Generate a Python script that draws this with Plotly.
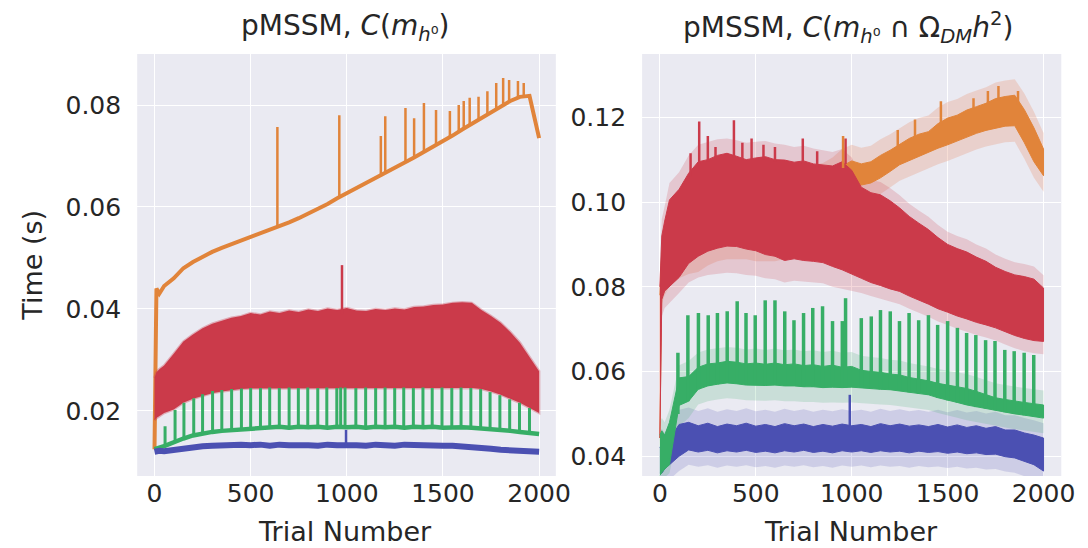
import plotly.graph_objects as go

# ---------------- data ----------------
TRIALS = [0, 10, 25, 50, 100, 150, 200, 250, 300, 350, 400, 450, 500, 550, 600, 650, 700,
          750, 800, 850, 900, 950, 1000, 1050, 1100, 1150, 1200, 1250, 1300, 1350, 1400,
          1450, 1500, 1550, 1600, 1650, 1700, 1750, 1800, 1850, 1900, 1950, 2000]

# ---- left panel: C(m_h0) ----
L_ORANGE = [0.0125, 0.0440, 0.0430, 0.0445, 0.0460, 0.0480, 0.0492, 0.0503, 0.0512, 0.0520,
            0.0527, 0.0534, 0.0540, 0.0548, 0.0556, 0.0563, 0.0570, 0.0578, 0.0587, 0.0596,
            0.0606, 0.0617, 0.0627, 0.0636, 0.0645, 0.0656, 0.0666, 0.0676, 0.0686, 0.0697,
            0.0708, 0.0718, 0.0729, 0.0740, 0.0752, 0.0763, 0.0775, 0.0787, 0.0798, 0.0808,
            0.0816, 0.0818, 0.0735]
L_RED_HI = [0.0265, 0.0276, 0.0282, 0.0289, 0.0312, 0.0336, 0.0350, 0.0362, 0.0371, 0.0377,
            0.0383, 0.0386, 0.0392, 0.0389, 0.0395, 0.0392, 0.0397, 0.0394, 0.0399, 0.0396,
            0.0401, 0.0398, 0.0402, 0.0397, 0.0396, 0.0400, 0.0398, 0.0401, 0.0399, 0.0404,
            0.0405, 0.0408, 0.0409, 0.0412, 0.0413, 0.0412, 0.0398, 0.0386, 0.0373, 0.0355,
            0.0334, 0.0306, 0.0278]
L_RED_LO = [0.0182, 0.0186, 0.0190, 0.0196, 0.0203, 0.0216, 0.0224, 0.0230, 0.0235, 0.0238,
            0.0241, 0.0243, 0.0244, 0.0245, 0.0245, 0.0245, 0.0245, 0.0245, 0.0245, 0.0245,
            0.0245, 0.0245, 0.0245, 0.0245, 0.0245, 0.0245, 0.0245, 0.0245, 0.0245, 0.0245,
            0.0245, 0.0245, 0.0245, 0.0245, 0.0245, 0.0245, 0.0243, 0.0238, 0.0232, 0.0224,
            0.0216, 0.0206, 0.0196]
L_GREEN = [0.0125, 0.0127, 0.0128, 0.0131, 0.0139, 0.0146, 0.0152, 0.0156, 0.0159, 0.0161,
           0.0162, 0.0164, 0.0165, 0.0166, 0.0167, 0.0169, 0.0167, 0.0169, 0.0168, 0.0169,
           0.0167, 0.0169, 0.0168, 0.0169, 0.0167, 0.0169, 0.0168, 0.0169, 0.0167, 0.0169,
           0.0168, 0.0169, 0.0167, 0.0168, 0.0168, 0.0167, 0.0166, 0.0165, 0.0163, 0.0161,
           0.0159, 0.0157, 0.0155]
L_BLUE = [0.0120, 0.0121, 0.0122, 0.0121, 0.0124, 0.0127, 0.0129, 0.0131, 0.0132, 0.0133,
          0.0132, 0.0134, 0.0133, 0.0134, 0.0132, 0.0134, 0.0133, 0.0134, 0.0133, 0.0132,
          0.0134, 0.0133, 0.0134, 0.0133, 0.0132, 0.0134, 0.0133, 0.0132, 0.0134, 0.0133,
          0.0132, 0.0133, 0.0132, 0.0132, 0.0131, 0.0130, 0.0128, 0.0126, 0.0124, 0.0123,
          0.0122, 0.0121, 0.0120]

L_ORANGE_SPK_T = [639, 961, 1177, 1200, 1305, 1350, 1401, 1464, 1536, 1582, 1608, 1639,
                  1685, 1731, 1777, 1813, 1844, 1890, 1920]
L_ORANGE_SPK_BASE = [0.0559, 0.0620, 0.0660, 0.0666, 0.0687, 0.0697, 0.0708, 0.0721, 0.0737,
                     0.0748, 0.0754, 0.0761, 0.0772, 0.0782, 0.0793, 0.0800, 0.0807, 0.0814,
                     0.0817]
L_ORANGE_SPK_TOP = [0.0757, 0.0780, 0.0739, 0.0778, 0.0794, 0.0774, 0.0804, 0.0790, 0.0788,
                    0.0800, 0.0808, 0.0814, 0.0816, 0.0827, 0.0843, 0.0853, 0.0849, 0.0847,
                    0.0843]
L_GREEN_SPK_T = [55, 107, 153, 204, 250, 302, 350, 401, 452, 500, 551, 599, 649, 700, 748,
                 797, 849, 896, 948, 968, 991, 1047, 1098, 1150, 1199, 1249, 1296, 1346,
                 1396, 1444, 1495, 1546, 1594, 1645, 1696, 1745, 1796, 1847, 1898, 1950]
L_GREEN_SPK_BASE = [0.0131, 0.0140, 0.0146, 0.0152, 0.0156, 0.0159, 0.0161, 0.0162, 0.0164,
                    0.0165, 0.0166, 0.0167, 0.0168, 0.0168, 0.0168, 0.0168, 0.0168, 0.0168,
                    0.0168, 0.0168, 0.0168, 0.0168, 0.0168, 0.0168, 0.0168, 0.0168, 0.0168,
                    0.0168, 0.0168, 0.0168, 0.0168, 0.0168, 0.0168, 0.0167, 0.0166, 0.0165,
                    0.0163, 0.0161, 0.0159, 0.0157]
L_GREEN_SPK_TOP = [0.0170, 0.0202, 0.0216, 0.0225, 0.0233, 0.0239, 0.0241, 0.0243, 0.0244,
                   0.0245, 0.0245, 0.0246, 0.0245, 0.0246, 0.0245, 0.0246, 0.0245, 0.0246,
                   0.0245, 0.0246, 0.0246, 0.0245, 0.0246, 0.0245, 0.0246, 0.0245, 0.0246,
                   0.0245, 0.0246, 0.0245, 0.0246, 0.0245, 0.0246, 0.0245, 0.0243, 0.0237,
                   0.0231, 0.0223, 0.0216, 0.0206]
L_RED_SPK = (975, 0.0390, 0.0486)
L_BLUE_SPK = (996, 0.0133, 0.0163)

# ---- right panel: C(m_h0 ∩ Ω_DM h^2) ----
R_ORANGE_HI = [0.0780, 0.0880, 0.0910, 0.0950, 0.0980, 0.1010, 0.1030, 0.1040, 0.1050, 0.1055,
               0.1055, 0.1050, 0.1050, 0.1050, 0.1048, 0.1048, 0.1046, 0.1046, 0.1048, 0.1052,
               0.1065, 0.1085, 0.1097, 0.1090, 0.1095, 0.1110, 0.1122, 0.1136, 0.1150, 0.1160,
               0.1166, 0.1185, 0.1198, 0.1205, 0.1217, 0.1225, 0.1233, 0.1244, 0.1249, 0.1252,
               0.1218, 0.1175, 0.1125]
R_ORANGE_LO = [0.0443, 0.0800, 0.0820, 0.0840, 0.0860, 0.0870, 0.0875, 0.0890, 0.0900, 0.0905,
               0.0905, 0.0905, 0.0900, 0.0900, 0.0900, 0.0905, 0.0910, 0.0920, 0.0935, 0.0955,
               0.0980, 0.1005, 0.1025, 0.1040, 0.1045, 0.1057, 0.1072, 0.1088, 0.1098, 0.1108,
               0.1117, 0.1127, 0.1135, 0.1143, 0.1153, 0.1162, 0.1169, 0.1174, 0.1179, 0.1180,
               0.1140, 0.1095, 0.1062]
R_ORANGE_CI_HI = [0.0810, 0.0920, 0.0950, 0.0990, 0.1020, 0.1050, 0.1070, 0.1080, 0.1090,
                  0.1095, 0.1095, 0.1090, 0.1090, 0.1090, 0.1088, 0.1088, 0.1086, 0.1086,
                  0.1088, 0.1092, 0.1105, 0.1125, 0.1135, 0.1128, 0.1133, 0.1148, 0.1160,
                  0.1174, 0.1188, 0.1198, 0.1204, 0.1223, 0.1236, 0.1243, 0.1255, 0.1263,
                  0.1271, 0.1282, 0.1287, 0.1290, 0.1256, 0.1213, 0.1163]
R_ORANGE_CI_LO = [0.0420, 0.0760, 0.0780, 0.0800, 0.0820, 0.0830, 0.0835, 0.0850, 0.0860,
                  0.0865, 0.0865, 0.0865, 0.0860, 0.0860, 0.0860, 0.0865, 0.0870, 0.0880,
                  0.0895, 0.0915, 0.0940, 0.0965, 0.0985, 0.1002, 0.1007, 0.1019, 0.1034,
                  0.1050, 0.1060, 0.1070, 0.1079, 0.1089, 0.1097, 0.1105, 0.1115, 0.1124,
                  0.1131, 0.1136, 0.1141, 0.1142, 0.1102, 0.1057, 0.1024]

R_RED_HI = [0.0800, 0.0920, 0.0955, 0.1005, 0.1030, 0.1068, 0.1095, 0.1100, 0.1110, 0.1115,
            0.1108, 0.1100, 0.1104, 0.1107, 0.1100, 0.1099, 0.1094, 0.1097, 0.1090, 0.1087,
            0.1085, 0.1095, 0.1075, 0.1035, 0.1022, 0.1017, 0.1003, 0.0986, 0.0966, 0.0950,
            0.0935, 0.0916, 0.0900, 0.0890, 0.0882, 0.0870, 0.0860, 0.0846, 0.0836, 0.0828,
            0.0824, 0.0818, 0.0797]
R_RED_LO = [0.0443, 0.0770, 0.0790, 0.0800, 0.0822, 0.0855, 0.0872, 0.0884, 0.0891, 0.0896,
            0.0895, 0.0889, 0.0885, 0.0876, 0.0872, 0.0862, 0.0866, 0.0862, 0.0860, 0.0857,
            0.0848, 0.0840, 0.0830, 0.0820, 0.0810, 0.0803, 0.0795, 0.0789, 0.0778, 0.0768,
            0.0759, 0.0748, 0.0740, 0.0731, 0.0724, 0.0716, 0.0710, 0.0703, 0.0694, 0.0685,
            0.0678, 0.0673, 0.0671]
R_RED_CI_HI = [0.0830, 0.0960, 0.0990, 0.1045, 0.1070, 0.1110, 0.1135, 0.1142, 0.1148, 0.1150,
               0.1146, 0.1140, 0.1142, 0.1144, 0.1138, 0.1135, 0.1130, 0.1133, 0.1126, 0.1122,
               0.1118, 0.1125, 0.1105, 0.1065, 0.1052, 0.1047, 0.1033, 0.1016, 0.0996, 0.0980,
               0.0965, 0.0946, 0.0930, 0.0920, 0.0912, 0.0900, 0.0890, 0.0876, 0.0866, 0.0858,
               0.0854, 0.0848, 0.0827]
R_RED_CI_LO = [0.0420, 0.0730, 0.0750, 0.0760, 0.0785, 0.0810, 0.0822, 0.0828, 0.0830, 0.0833,
               0.0832, 0.0828, 0.0826, 0.0820, 0.0818, 0.0810, 0.0814, 0.0812, 0.0810, 0.0808,
               0.0800, 0.0795, 0.0790, 0.0785, 0.0778, 0.0772, 0.0765, 0.0759, 0.0748, 0.0738,
               0.0729, 0.0718, 0.0710, 0.0701, 0.0694, 0.0686, 0.0680, 0.0673, 0.0664, 0.0655,
               0.0648, 0.0643, 0.0641]

R_GREEN_HI = [0.0450, 0.0460, 0.0450, 0.0480, 0.0585, 0.0588, 0.0610, 0.0618, 0.0620, 0.0624,
              0.0622, 0.0618, 0.0620, 0.0617, 0.0620, 0.0616, 0.0618, 0.0614, 0.0616, 0.0612,
              0.0615, 0.0610, 0.0612, 0.0603, 0.0600, 0.0598, 0.0594, 0.0592, 0.0586, 0.0582,
              0.0578, 0.0572, 0.0568, 0.0565, 0.0560, 0.0553, 0.0546, 0.0538, 0.0534, 0.0530,
              0.0527, 0.0524, 0.0521]
R_GREEN_LO = [0.0355, 0.0360, 0.0370, 0.0380, 0.0520, 0.0530, 0.0558, 0.0566, 0.0570, 0.0573,
              0.0571, 0.0568, 0.0568, 0.0567, 0.0568, 0.0566, 0.0566, 0.0564, 0.0564, 0.0562,
              0.0563, 0.0562, 0.0563, 0.0561, 0.0560, 0.0558, 0.0557, 0.0555, 0.0551, 0.0548,
              0.0545, 0.0538, 0.0532, 0.0527, 0.0521, 0.0516, 0.0513, 0.0509, 0.0504, 0.0500,
              0.0497, 0.0494, 0.0490]
R_GREEN_CI_HI = [0.0480, 0.0490, 0.0480, 0.0510, 0.0615, 0.0625, 0.0645, 0.0652, 0.0655,
                 0.0658, 0.0656, 0.0652, 0.0654, 0.0651, 0.0654, 0.0650, 0.0652, 0.0648,
                 0.0650, 0.0646, 0.0649, 0.0644, 0.0646, 0.0637, 0.0634, 0.0632, 0.0628,
                 0.0626, 0.0620, 0.0616, 0.0612, 0.0606, 0.0602, 0.0599, 0.0594, 0.0587,
                 0.0580, 0.0572, 0.0568, 0.0564, 0.0561, 0.0558, 0.0555]
R_GREEN_CI_LO = [0.0340, 0.0340, 0.0350, 0.0360, 0.0470, 0.0490, 0.0522, 0.0530, 0.0534,
                 0.0537, 0.0535, 0.0532, 0.0532, 0.0531, 0.0532, 0.0530, 0.0530, 0.0528,
                 0.0528, 0.0526, 0.0527, 0.0526, 0.0527, 0.0525, 0.0524, 0.0522, 0.0521,
                 0.0519, 0.0515, 0.0512, 0.0509, 0.0502, 0.0496, 0.0491, 0.0485, 0.0480,
                 0.0477, 0.0473, 0.0468, 0.0464, 0.0461, 0.0458, 0.0454]

R_BLUE_HI = [0.0420, 0.0430, 0.0420, 0.0440, 0.0475, 0.0480, 0.0472, 0.0478, 0.0470, 0.0476,
             0.0472, 0.0478, 0.0471, 0.0475, 0.0470, 0.0477, 0.0472, 0.0476, 0.0470, 0.0475,
             0.0471, 0.0476, 0.0472, 0.0475, 0.0470, 0.0477, 0.0472, 0.0476, 0.0471, 0.0474,
             0.0470, 0.0475, 0.0469, 0.0474, 0.0468, 0.0472, 0.0466, 0.0470, 0.0462, 0.0462,
             0.0455, 0.0450, 0.0443]
R_BLUE_LO = [0.0360, 0.0360, 0.0370, 0.0380, 0.0400, 0.0415, 0.0410, 0.0414, 0.0408, 0.0413,
             0.0410, 0.0414, 0.0409, 0.0412, 0.0408, 0.0413, 0.0410, 0.0414, 0.0409, 0.0412,
             0.0408, 0.0413, 0.0410, 0.0413, 0.0409, 0.0413, 0.0410, 0.0412, 0.0408, 0.0412,
             0.0409, 0.0411, 0.0407, 0.0410, 0.0406, 0.0408, 0.0404, 0.0405, 0.0399, 0.0396,
             0.0388, 0.0380, 0.0365]
R_BLUE_CI_HI = [0.0455, 0.0465, 0.0455, 0.0475, 0.0510, 0.0515, 0.0507, 0.0513, 0.0505,
                0.0511, 0.0507, 0.0513, 0.0506, 0.0510, 0.0505, 0.0512, 0.0507, 0.0511,
                0.0505, 0.0510, 0.0506, 0.0511, 0.0507, 0.0510, 0.0505, 0.0512, 0.0507,
                0.0511, 0.0506, 0.0509, 0.0505, 0.0510, 0.0504, 0.0509, 0.0503, 0.0507,
                0.0501, 0.0505, 0.0497, 0.0497, 0.0490, 0.0485, 0.0478]
R_BLUE_CI_LO = [0.0325, 0.0325, 0.0335, 0.0345, 0.0365, 0.0380, 0.0375, 0.0379, 0.0373,
                0.0378, 0.0375, 0.0379, 0.0374, 0.0377, 0.0373, 0.0378, 0.0375, 0.0379,
                0.0374, 0.0377, 0.0373, 0.0378, 0.0375, 0.0378, 0.0374, 0.0378, 0.0375,
                0.0377, 0.0373, 0.0377, 0.0374, 0.0376, 0.0372, 0.0375, 0.0371, 0.0373,
                0.0369, 0.0370, 0.0364, 0.0361, 0.0353, 0.0345, 0.0330]

R_GREEN_SPK_T = [94, 146, 201, 252, 300, 351, 403, 449, 497, 549, 600, 651, 699, 749, 797,
                 848, 900, 951, 968, 1050, 1102, 1150, 1201, 1249, 1299, 1349, 1400, 1448,
                 1500, 1551, 1599, 1647, 1698, 1747, 1798, 1847, 1899, 1949]
R_GREEN_SPK_BASE = [0.0500, 0.0530, 0.0558, 0.0566, 0.0570, 0.0573, 0.0571, 0.0568, 0.0568,
                    0.0567, 0.0568, 0.0566, 0.0566, 0.0564, 0.0564, 0.0562, 0.0563, 0.0562,
                    0.0562, 0.0561, 0.0560, 0.0558, 0.0557, 0.0555, 0.0551, 0.0548, 0.0545,
                    0.0538, 0.0532, 0.0527, 0.0521, 0.0516, 0.0513, 0.0509, 0.0504, 0.0500,
                    0.0497, 0.0494]
R_GREEN_SPK_TOP = [0.0644, 0.0733, 0.0738, 0.0733, 0.0738, 0.0742, 0.0766, 0.0738, 0.0733,
                   0.0768, 0.0768, 0.0742, 0.0721, 0.0738, 0.0750, 0.0754, 0.0719, 0.0719,
                   0.0773, 0.0726, 0.0730, 0.0745, 0.0742, 0.0719, 0.0738, 0.0721, 0.0733,
                   0.0710, 0.0719, 0.0703, 0.0691, 0.0686, 0.0674, 0.0672, 0.0651, 0.0648,
                   0.0644, 0.0639]
R_RED_SPK_T = [160, 205, 250, 290, 386, 430, 478, 540, 600, 745, 820, 968]
R_RED_SPK_BASE = [0.1060, 0.1090, 0.1095, 0.1100, 0.1105, 0.1100, 0.1100, 0.1100, 0.1095,
                  0.1090, 0.1080, 0.1090]
R_RED_SPK_TOP = [0.1115, 0.1190, 0.1156, 0.1130, 0.1193, 0.1140, 0.1150, 0.1135, 0.1130,
                 0.1150, 0.1120, 0.1150]
R_ORANGE_SPK_T = [955, 1240, 1330, 1465, 1635, 1710, 1765, 1867]
R_ORANGE_SPK_BASE = [0.1080, 0.1130, 0.1150, 0.1180, 0.1220, 0.1230, 0.1240, 0.1230]
R_ORANGE_SPK_TOP = [0.1156, 0.1170, 0.1195, 0.1238, 0.1245, 0.1262, 0.1274, 0.1262]
R_BLUE_SPK = (990, 0.0470, 0.0545)

LEFT_YTICKS = [0.02, 0.04, 0.06, 0.08]
RIGHT_YTICKS = [0.04, 0.06, 0.08, 0.10, 0.12]
XTICKS = [0, 500, 1000, 1500, 2000]

# ---------------- style ----------------
ORANGE = "#E1843A"
RED = "#CB3A4A"
GREEN = "#37AE66"
BLUE = "#4B50B2"
BG = "#EAEAF2"
TXT = "#262626"
FONT = "DejaVu Sans"


def rgba(hx, a):
    hx = hx.lstrip("#")
    return "rgba(%d,%d,%d,%.2f)" % (int(hx[0:2], 16), int(hx[2:4], 16), int(hx[4:6], 16), a)


def band(x, hi, lo, color, xa, ya, edge=None, ew=0):
    return go.Scatter(x=list(x) + list(x)[::-1], y=list(hi) + list(lo)[::-1], mode="lines",
                      fill="toself", fillcolor=color,
                      line=dict(color=edge or color, width=ew), hoverinfo="skip",
                      showlegend=False, xaxis=xa, yaxis=ya)


def spikes(ts, bases, tops, color, width, xa, ya):
    xs, ys = [], []
    for t, b, h in zip(ts, bases, tops):
        xs += [t, t, None]
        ys += [b, h, None]
    return go.Scatter(x=xs, y=ys, mode="lines", line=dict(color=color, width=width),
                      hoverinfo="skip", showlegend=False, xaxis=xa, yaxis=ya)


def line(x, y, color, width, xa, ya):
    return go.Scatter(x=x, y=y, mode="lines", line=dict(color=color, width=width),
                      hoverinfo="skip", showlegend=False, xaxis=xa, yaxis=ya)


fig = go.Figure()

# left panel
fig.add_trace(line(TRIALS, L_ORANGE, ORANGE, 4, "x", "y"))
fig.add_trace(spikes(L_ORANGE_SPK_T, L_ORANGE_SPK_BASE, L_ORANGE_SPK_TOP, ORANGE, 2.5, "x", "y"))
fig.add_trace(band(TRIALS, L_RED_HI, L_RED_LO, RED, "x", "y", edge=rgba(RED, 0.35), ew=2.5))
fig.add_trace(spikes([L_RED_SPK[0]], [L_RED_SPK[1]], [L_RED_SPK[2]], RED, 2.5, "x", "y"))
fig.add_trace(spikes(L_GREEN_SPK_T, L_GREEN_SPK_BASE, L_GREEN_SPK_TOP, GREEN, 3, "x", "y"))
fig.add_trace(line(TRIALS, L_GREEN, GREEN, 4.5, "x", "y"))
fig.add_trace(line(TRIALS, L_BLUE, BLUE, 6, "x", "y"))
fig.add_trace(spikes([L_BLUE_SPK[0]], [L_BLUE_SPK[1]], [L_BLUE_SPK[2]], BLUE, 2.5, "x", "y"))

# right panel: confidence shading
fig.add_trace(band(TRIALS, R_ORANGE_CI_HI, R_ORANGE_CI_LO, rgba("#E8A088", 0.35), "x2", "y2"))
fig.add_trace(band(TRIALS, R_RED_CI_HI, R_RED_CI_LO, rgba(RED, 0.2), "x2", "y2"))
fig.add_trace(band(TRIALS, R_BLUE_CI_HI, R_BLUE_CI_LO, rgba(BLUE, 0.18), "x2", "y2"))
fig.add_trace(band(TRIALS, R_GREEN_CI_HI, R_GREEN_CI_LO, rgba(GREEN, 0.18), "x2", "y2"))
# right panel: dark bands
fig.add_trace(band(TRIALS, R_ORANGE_HI, R_ORANGE_LO, ORANGE, "x2", "y2", ew=1))
fig.add_trace(band(TRIALS, R_RED_HI, R_RED_LO, RED, "x2", "y2", ew=1))
fig.add_trace(spikes(R_RED_SPK_T, R_RED_SPK_BASE, R_RED_SPK_TOP, RED, 2.5, "x2", "y2"))
fig.add_trace(spikes(R_ORANGE_SPK_T, R_ORANGE_SPK_BASE, R_ORANGE_SPK_TOP, ORANGE, 2.5, "x2", "y2"))
fig.add_trace(band(TRIALS, R_BLUE_HI, R_BLUE_LO, BLUE, "x2", "y2", ew=1))
fig.add_trace(spikes([R_BLUE_SPK[0]], [R_BLUE_SPK[1]], [R_BLUE_SPK[2]], BLUE, 2.5, "x2", "y2"))
fig.add_trace(band(TRIALS, R_GREEN_HI, R_GREEN_LO, GREEN, "x2", "y2", ew=1))
fig.add_trace(spikes(R_GREEN_SPK_T, R_GREEN_SPK_BASE, R_GREEN_SPK_TOP, GREEN, 3.5, "x2", "y2"))

W, H = 1088, 548
grid = dict(showgrid=True, gridcolor="white", gridwidth=1.3, zeroline=False, showline=False,
            tickfont=dict(family=FONT, size=25, color=TXT))
xcommon = dict(ticks="", **grid)
ycommon = dict(ticks="outside", ticklen=10, tickcolor="rgba(0,0,0,0)", **grid)

fig.update_layout(
    width=W, height=H, margin=dict(l=0, r=0, t=0, b=0),
    paper_bgcolor="white", plot_bgcolor=BG, showlegend=False,
    xaxis=dict(domain=[131 / W, 555.5 / W], range=[-90, 2087], tickvals=XTICKS,
               ticktext=[str(v) for v in XTICKS], anchor="y", **xcommon),
    yaxis=dict(domain=[1 - 468 / H, 1 - 46 / H], range=[0.00725, 0.0900], tickvals=LEFT_YTICKS,
               ticktext=["%.2f" % v for v in LEFT_YTICKS], anchor="x", **ycommon),
    xaxis2=dict(domain=[643 / W, 1068 / W], range=[-92.5, 2092.5], tickvals=XTICKS,
                ticktext=[str(v) for v in XTICKS], anchor="y2", **xcommon),
    yaxis2=dict(domain=[1 - 468 / H, 1 - 46 / H], range=[0.03534, 0.13493],
                tickvals=RIGHT_YTICKS, ticktext=["%.2f" % v for v in RIGHT_YTICKS],
                anchor="x2", **ycommon),
)

title_font = dict(family=FONT, size=28, color=TXT)
ann_font = dict(family=FONT, size=27, color=TXT)
fig.add_annotation(x=342 / W, y=1 - 20 / H, xref="paper", yref="paper", showarrow=False,
                   text="pMSSM, <i>C</i>(<i>m</i><sub><i>h</i>⁰</sub>)",
                   font=title_font, xanchor="center", yanchor="middle")
fig.add_annotation(x=852 / W, y=1 - 20 / H, xref="paper", yref="paper", showarrow=False,
                   text="pMSSM, <i>C</i>(<i>m</i><sub><i>h</i>⁰</sub> ∩ Ω<sub><i>DM</i></sub><i>h</i><sup>2</sup>)",
                   font=title_font, xanchor="center", yanchor="middle")
fig.add_annotation(x=24 / W, y=1 - 257 / H, xref="paper", yref="paper", showarrow=False,
                   text="Time (s)", textangle=-90, font=ann_font,
                   xanchor="center", yanchor="middle")
for cx in (342, 855):
    fig.add_annotation(x=cx / W, y=1 - 523 / H, xref="paper", yref="paper", showarrow=False,
                       text="Trial Number", font=ann_font, xanchor="center", yanchor="middle")

fig.write_html("out.html")
